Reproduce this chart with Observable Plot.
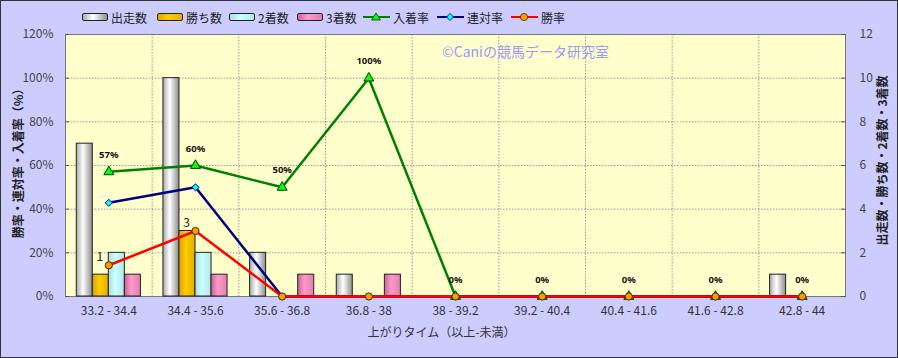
<!DOCTYPE html>
<html><head><meta charset="utf-8">
<script src="https://cdn.jsdelivr.net/npm/d3@7"></script>
<script src="https://cdn.jsdelivr.net/npm/@observablehq/plot@0.6"></script>
<style>
body{margin:0;background:#ccccff;}
#wrap{position:relative;width:898px;height:358px;background:#ccccff;outline:1px solid #333;outline-offset:-1px;overflow:hidden;font-family:"Noto Sans CJK JP",sans-serif;}
#legend{position:relative;height:26px;font-size:12px;color:#222;}
.item{position:absolute;top:9px;display:flex;align-items:center;white-space:nowrap;height:16px;}
.item svg{margin-right:3px;overflow:visible;}
</style></head><body>
<svg width="0" height="0" style="position:absolute">
<defs>
<linearGradient id="gWhite" x1="0" x2="1" y1="0" y2="0"><stop offset="0" stop-color="#a8a8a8"/><stop offset="0.42" stop-color="#ffffff"/><stop offset="1" stop-color="#8c8c8c"/></linearGradient>
<linearGradient id="gGold" x1="0" x2="1" y1="0" y2="0"><stop offset="0" stop-color="#d9a200"/><stop offset="0.42" stop-color="#ffcc00"/><stop offset="1" stop-color="#e3ae00"/></linearGradient>
<linearGradient id="gCyan" x1="0" x2="1" y1="0" y2="0"><stop offset="0" stop-color="#a8dede"/><stop offset="0.42" stop-color="#ccffff"/><stop offset="1" stop-color="#b0e8e8"/></linearGradient>
<linearGradient id="gPink" x1="0" x2="1" y1="0" y2="0"><stop offset="0" stop-color="#c86496"/><stop offset="0.42" stop-color="#ff99cc"/><stop offset="1" stop-color="#e07fb0"/></linearGradient>
</defs></svg>
<div id="wrap"><div id="legend"></div><div id="chart"></div></div>
<script>
const categories = ["33.2 - 34.4","34.4 - 35.6","35.6 - 36.8","36.8 - 38","38 - 39.2","39.2 - 40.4","40.4 - 41.6","41.6 - 42.8","42.8 - 44"];
const runs    = [7, 10, 2, 1, 0, 0, 0, 0, 1];
const wins    = [1, 3, 0, 0, 0, 0, 0, 0, 0];
const seconds = [2, 2, 0, 0, 0, 0, 0, 0, 0];
const thirds  = [1, 1, 1, 1, 0, 0, 0, 0, 0];
const placeRate  = [57.1, 60, 50, 100, 0, 0, 0, 0, 0];
const rentaiRate = [42.9, 50, 0, 0, 0, 0, 0, 0, 0];
const winRate    = [14.3, 30, 0, 0, 0, 0, 0, 0, 0];
const pctTicks = [0, 20, 40, 60, 80, 100, 120];

const rows = categories.map((c, i) => ({i, c, runs: runs[i], wins: wins[i], seconds: seconds[i], thirds: thirds[i],
  place: placeRate[i], rentai: rentaiRate[i], win: winRate[i]}));

const barSeries = [
  {key: "runs", name: "出走数", fill: "url(#gWhite)"},
  {key: "wins", name: "勝ち数", fill: "url(#gGold)"},
  {key: "seconds", name: "2着数", fill: "url(#gCyan)"},
  {key: "thirds", name: "3着数", fill: "url(#gPink)"}
];
const lineSeries = [
  {key: "place", name: "入着率", stroke: "#008000", fill: "#00ff00", mstroke: "#004000", symbol: "triangle", r: 3.7},
  {key: "rentai", name: "連対率", stroke: "#000080", fill: "#00ffff", mstroke: "#000080", symbol: "diamond2", r: 3.2},
  {key: "win", name: "勝率", stroke: "#ff0000", fill: "#ff9900", mstroke: "#4a2a00", symbol: "circle", r: 3.6}
];

// legend
const legendX = [82, 157, 229, 297, 363, 437, 511];
const lg = document.getElementById("legend");
barSeries.forEach((s, k) => {
  lg.insertAdjacentHTML("beforeend", `<span class="item" style="left:${legendX[k]}px"><svg width="26" height="8"><rect x="0.5" y="0.5" width="25" height="7" rx="1.5" fill="${s.fill}" stroke="#222"/></svg>${s.name}</span>`);
});
lineSeries.forEach((s, k) => {
  let m;
  if (s.symbol === "triangle") m = `<polygon points="13,1 17.5,8 8.5,8" fill="${s.fill}" stroke="${s.mstroke}" stroke-width="0.8"/>`;
  else if (s.symbol === "diamond2") m = `<polygon points="13,1.5 16.5,5 13,8.5 9.5,5" fill="${s.fill}" stroke="${s.mstroke}" stroke-width="0.8"/>`;
  else m = `<circle cx="13" cy="5" r="3.6" fill="${s.fill}" stroke="${s.mstroke}" stroke-width="0.8"/>`;
  lg.insertAdjacentHTML("beforeend", `<span class="item" style="left:${legendX[k + 4]}px"><svg width="27" height="10"><line x1="0" x2="27" y1="5" y2="5" stroke="${s.stroke}" stroke-width="2"/>${m}</svg>${s.name}</span>`);
});

const n = categories.length;
const bw = 0.185;
const marks = [
  Plot.frame({fill: "#ffffcc"}),
  Plot.gridY(pctTicks, {stroke: "#999", strokeOpacity: 1, strokeDasharray: "1.5,1.5"}),
  Plot.gridX(d3.range(1, n).map(i => i - 0.5), {stroke: "#999", strokeOpacity: 1, strokeDasharray: "1.5,1.5"}),
  Plot.frame({stroke: "#777"}),
  ...barSeries.map((s, k) => Plot.rectY(rows, {
    filter: d => d[s.key] > 0,
    x1: d => d.i - 2 * bw + k * bw, x2: d => d.i - 2 * bw + (k + 1) * bw,
    y1: 0, y2: d => d[s.key] * 10,
    fill: s.fill, stroke: "#222", strokeWidth: 1
  })),
  ...lineSeries.map(s => Plot.line(rows, {x: "i", y: s.key, stroke: s.stroke, strokeWidth: 2.5})),
  ...lineSeries.map(s => Plot.dot(rows, {x: "i", y: s.key, symbol: s.symbol, r: s.r, fill: s.fill, stroke: s.mstroke, strokeWidth: 1})),
  Plot.text(rows, {x: "i", y: "place", text: d => Math.round(d.place) + "%", dy: -17, fontFamily: "'Noto Sans', sans-serif", fontWeight: "bold", fontSize: 9.5, fill: "#111"}),
  Plot.text(rows.filter(d => d.wins > 0), {x: "i", y: "win", text: d => String(d.wins), dx: -9, dy: -8, fontSize: 12, fill: "#222"}),
  Plot.axisX({ticks: d3.range(n), tickFormat: i => categories[i], tickSize: 0, tickPadding: 10, fontSize: 12, fill: "#333", label: null}),
  Plot.axisY({anchor: "left", ticks: pctTicks, tickFormat: d => d + "%", tickSize: -4, tickPadding: 16, fontSize: 12, fill: "#444", stroke: "#555", label: null}),
  Plot.axisY({anchor: "right", ticks: pctTicks, tickFormat: d => String(d / 10), tickSize: -5, tickPadding: 19, fontSize: 12, fill: "#444", stroke: "#555", label: null}),
  Plot.text(["勝率・連対率・入着率（%）"], {frameAnchor: "left", textAnchor: "middle", lineAnchor: "middle", dx: -46, dy: -5, rotate: -90, fontSize: 12, fontWeight: "bold", fill: "#222"}),
  Plot.text(["出走数・勝ち数・2着数・3着数"], {frameAnchor: "right", textAnchor: "middle", lineAnchor: "middle", dx: 38, dy: -5, rotate: -90, fontSize: 12, fontWeight: "bold", fill: "#222"}),
  Plot.text(["上がりタイム（以上-未満）"], {frameAnchor: "bottom", textAnchor: "middle", lineAnchor: "middle", dx: -14, dy: 37, fontSize: 12, fill: "#333"}),
  Plot.text(["©Caniの競馬データ研究室"], {frameAnchor: "top", textAnchor: "middle", lineAnchor: "middle", dx: 70, dy: 18, fontSize: 14, fill: "#9999ff"})
];

const chart = Plot.plot({
  width: 898, height: 332,
  marginTop: 8, marginBottom: 62, marginLeft: 65, marginRight: 53,
  x: {domain: [-0.5, n - 0.5], axis: null},
  y: {domain: [0, 120], axis: null},
  style: {background: "transparent", fontFamily: "'Noto Sans CJK JP', sans-serif", fontSize: "12px", color: "#333", overflow: "visible"},
  marks
});
document.getElementById("chart").appendChild(chart);
</script>
</body></html>
